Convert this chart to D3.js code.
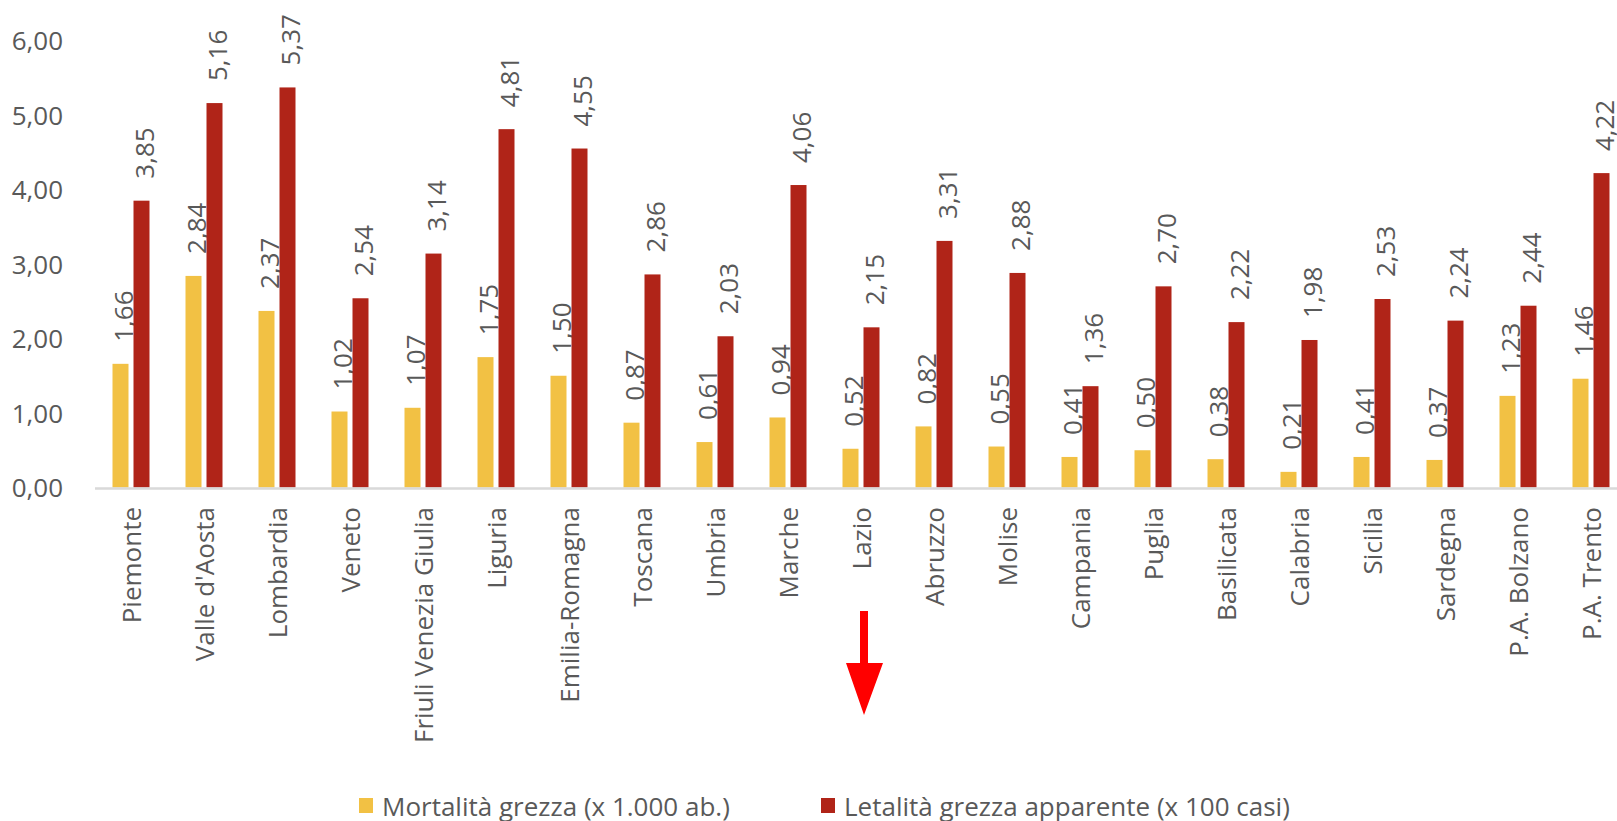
<!DOCTYPE html>
<html>
<head>
<meta charset="utf-8">
<script src="https://cdn.jsdelivr.net/npm/d3@7"></script>
<style>
	body { margin: 0; background: #fff; }
	text { font-family: "Open Sans", sans-serif; fill: #595959; }
</style>
</head>
<body>
<svg id="wykres"></svg>
<script>
// dati
let regioni = ['Piemonte', "Valle d'Aosta", 'Lombardia', 'Veneto', 'Friuli Venezia Giulia', 'Liguria',
	'Emilia-Romagna', 'Toscana', 'Umbria', 'Marche', 'Lazio', 'Abruzzo', 'Molise', 'Campania',
	'Puglia', 'Basilicata', 'Calabria', 'Sicilia', 'Sardegna', 'P.A. Bolzano', 'P.A. Trento'];
let mortalita = [1.66, 2.84, 2.37, 1.02, 1.07, 1.75, 1.50, 0.87, 0.61, 0.94, 0.52, 0.82, 0.55, 0.41, 0.50, 0.38, 0.21, 0.41, 0.37, 1.23, 1.46];
let letalita = [3.85, 5.16, 5.37, 2.54, 3.14, 4.81, 4.55, 2.86, 2.03, 4.06, 2.15, 3.31, 2.88, 1.36, 2.70, 2.22, 1.98, 2.53, 2.24, 2.44, 4.22];
let serie = ['Mortalità grezza (x 1.000 ab.)', 'Letalità grezza apparente (x 100 casi)'];
let colori = ['#F2C144', '#B02418'];
let yTicks = [0, 1, 2, 3, 4, 5, 6];

let W = 1617, H = 821;
let svg = d3.select('#wykres').attr('width', W).attr('height', H);

let it = d3.formatLocale({decimal: ',', thousands: '.', grouping: [3], currency: ['', '€']});
let fmt = it.format('.2f');

let x = d3.scaleBand().domain(regioni).range([94.5, 94.5 + 73 * regioni.length]);
let x1 = d3.scaleBand().domain([0, 1]).range([18, 55]).paddingInner(5 / 21);
let y = d3.scaleLinear().domain([0, 6]).range([487.5, 40.5]);

// asse y (solo etichette)
let yAxis = d3.axisLeft(y).tickValues(yTicks).tickFormat(fmt).tickSize(0).tickPadding(0);
let gy = svg.append('g').attr('transform', 'translate(63,0)').call(yAxis);
gy.select('.domain').remove();
gy.selectAll('text').style('font-size', '26px').style('font-family', '"Open Sans", sans-serif')
	.attr('fill', '#595959').attr('text-anchor', 'end').attr('dy', '0.35em');

// barre
let valori = [mortalita, letalita];
valori.forEach(function(arr, s) {
	let g = svg.append('g');
	g.selectAll('rect').data(arr).enter().append('rect')
		.attr('x', function(d, i) { return x(regioni[i]) + x1(s); })
		.attr('y', function(d) { return y(d); })
		.attr('width', x1.bandwidth())
		.attr('height', function(d) { return y(0) - y(d); })
		.attr('fill', colori[s]);

	g.selectAll('text').data(arr).enter().append('text')
		.attr('transform', function(d, i) {
			let cx = x(regioni[i]) + x1(s) + x1.bandwidth() / 2 + 2;
			return 'translate(' + cx + ',' + (y(d) - 22) + ') rotate(-90)';
		})
		.attr('text-anchor', 'start')
		.attr('dominant-baseline', 'central')
		.style('font-size', '26px')
		.text(function(d) { return fmt(d); });
});

// linea base
svg.append('line')
	.attr('x1', 95).attr('x2', W)
	.attr('y1', y(0) + 1).attr('y2', y(0) + 1)
	.attr('stroke', '#D9D9D9').attr('stroke-width', 2.5);

// etichette categorie
svg.append('g').selectAll('text').data(regioni).enter().append('text')
	.attr('transform', function(d) {
		return 'translate(' + (x(d) + x.bandwidth() / 2) + ',507) rotate(-90)';
	})
	.attr('text-anchor', 'end')
	.attr('dominant-baseline', 'central')
	.style('font-size', '26px')
	.text(function(d) { return d; });

// freccia rossa
svg.append('path')
	.attr('d', 'M860,611 L868,611 L868,663 L883,663 L864,715 L846,663 L860,663 Z')
	.attr('fill', '#FF0000');

// legenda
let legX = [359, 821];
serie.forEach(function(nome, s) {
	svg.append('rect').attr('x', legX[s]).attr('y', 798).attr('width', 14).attr('height', 15).attr('fill', colori[s]);
	svg.append('text').attr('x', legX[s] + 23).attr('y', 806)
		.attr('dominant-baseline', 'central')
		.style('font-size', '26px')
		.text(nome);
});
</script>
</body>
</html>
